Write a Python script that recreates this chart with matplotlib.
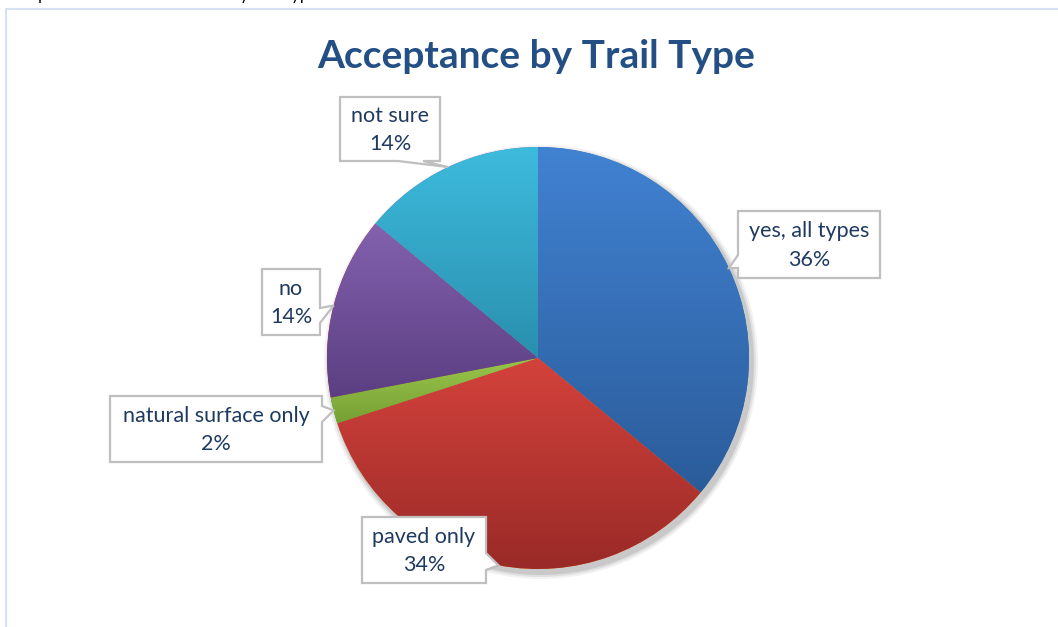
import numpy as np
import matplotlib.pyplot as plt
from matplotlib.patches import Polygon, Circle
from matplotlib.colors import LinearSegmentedColormap

W, H = 1058, 627

labels = ["yes, all types", "paved only", "natural surface only", "no", "not sure"]
shares = [36, 34, 2, 14, 14]
top_colors = ["#4182D2", "#D4423C", "#9AC64C", "#8362AE", "#3DBBDD"]
bottom_colors = ["#2B5C9A", "#992A27", "#77A034", "#5B3E82", "#2A8FAE"]

title = "Acceptance by Trail Type"
page_text = "Acceptance of e-bikes on trails by trail type"

# callout boxes in pixels: left, top, right, bottom, pointer side, pointer base start/end
boxes = [
    (738, 211, 880, 278, "left", 255, 268),
    (362, 517, 486, 583, "right", 553, 570),
    (110, 396, 322, 462, "right", 406, 422),
    (262, 269, 320, 335, "right", 308, 323),
    (340, 97, 440, 161, "bottom", 398, 423),
]

center = (538, 358)
radius = 211

plt.rcParams['font.family'] = ['Lato', 'DejaVu Sans']

fig = plt.figure(figsize=(W / 100, H / 100), dpi=100)
ax = fig.add_axes([0, 0, 1, 1])

# shadow
for k, a in zip([6, 4, 2], [0.05, 0.07, 0.10]):
    ax.add_patch(Circle((center[0] + 3, center[1] + 4), radius + k, color="black", alpha=a, lw=0, zorder=1))

# y axis is inverted (pixel style), so counterclock in data = clockwise on screen
wedges, _ = ax.pie(shares, startangle=-90, counterclock=True, center=center,
                   radius=radius, frame=True, wedgeprops=dict(lw=0))

for w, c0, c1 in zip(wedges, top_colors, bottom_colors):
    w.set_zorder(2)
    th = np.radians(np.linspace(w.theta1, w.theta2, 100))
    xs = np.r_[center[0], center[0] + radius * np.cos(th)]
    ys = np.r_[center[1], center[1] + radius * np.sin(th)]
    cmap = LinearSegmentedColormap.from_list("g", [c0, c1])
    grad = np.linspace(0, 1, 256).reshape(-1, 1)
    im = ax.imshow(grad, cmap=cmap, extent=(xs.min(), xs.max(), ys.max(), ys.min()),
                   origin="upper", aspect="auto", zorder=3)
    im.set_clip_path(w)

# callouts
for w, lab, s, (l, t, r, b, side, a, c) in zip(wedges, labels, shares, boxes):
    mid = np.radians((w.theta1 + w.theta2) / 2)
    tip = (center[0] + radius * np.cos(mid), center[1] + radius * np.sin(mid))
    pts = [(l, t), (r, t)]
    if side == "right":
        pts += [(r, a), tip, (r, c)]
    pts += [(r, b)]
    if side == "bottom":
        pts += [(c, b), tip, (a, b)]
    pts += [(l, b)]
    if side == "left":
        pts += [(l, c), tip, (l, a)]
    ax.add_patch(Polygon(pts, closed=True, fc="white", ec="#BFBFBF", lw=1.6, zorder=5))
    ax.text((l + r) / 2, (t + b) / 2 + 1, f"{lab}\n{s}%", ha="center", va="center",
            fontsize=15.5, color="#1F3A60", linespacing=1.55, zorder=6)

ax.text(536, 56, title, ha="center", va="center", fontsize=28, fontweight="bold", color="#234F84")

# chart area border
ax.plot([5.5, 5.5, W], [H, 8.5, 8.5], color="#D6E2F2", lw=1.5, zorder=0)
ax.text(2, 3, page_text, ha="left", va="bottom", fontsize=12, color="black")

ax.set_xlim(0, W)
ax.set_ylim(H, 0)
ax.set_aspect("equal")
ax.axis("off")

fig.savefig("out.png", dpi=100)
